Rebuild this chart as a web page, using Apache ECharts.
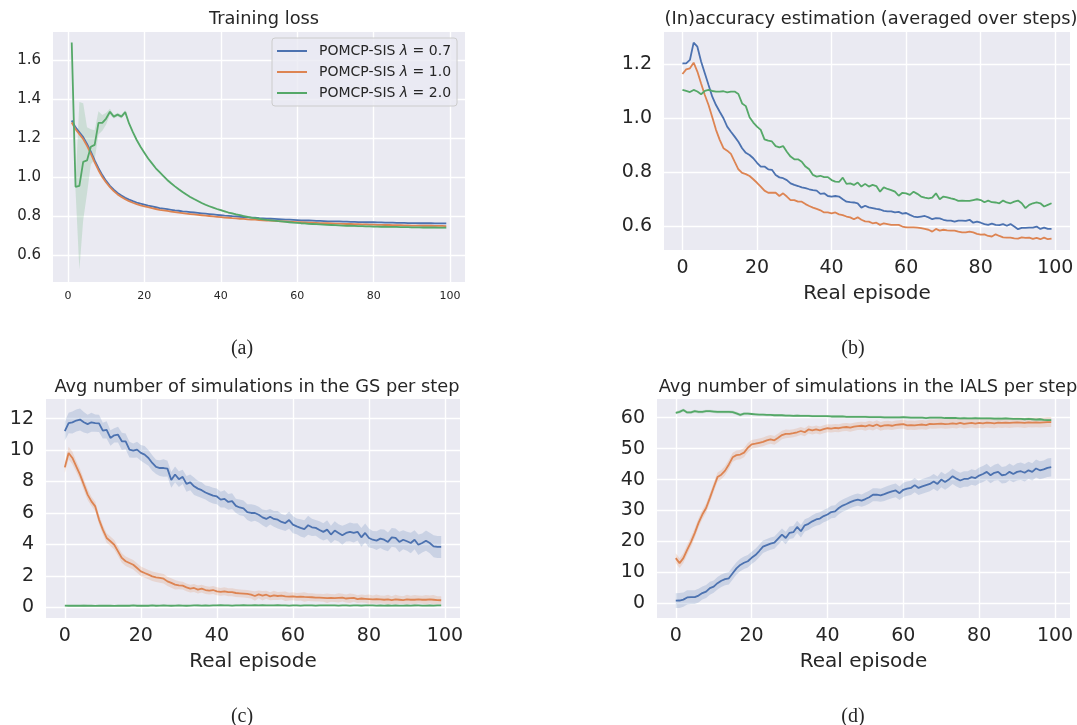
<!DOCTYPE html>
<html>
<head>
<meta charset="utf-8">
<script src="https://cdn.jsdelivr.net/npm/echarts@6/dist/echarts.min.js"></script>
<style>
  html, body { margin: 0; padding: 0; background: #fff; }
  #main { width: 1077px; height: 725px; }
</style>
</head>
<body>
<div id="main"></div>
<script>
// x values: training loss is logged from episode 1, the rest from episode 0
const lossEpisodes = Array.from({ length: 99 }, (_, i) => i + 1);
const episodes = Array.from({ length: 100 }, (_, i) => i);

const seriesNames = ['POMCP-SIS λ = 0.7', 'POMCP-SIS λ = 1.0', 'POMCP-SIS λ = 2.0'];
const colors = ['#4C72B0', '#DD8452', '#55A868'];

const episodeTicks = [0, 20, 40, 60, 80, 100];
const lossTicks = [0.6, 0.8, 1.0, 1.2, 1.4, 1.6];
const accTicks = [0.6, 0.8, 1.0, 1.2];
const gsTicks = [0, 2, 4, 6, 8, 10, 12];
const ialsTicks = [0, 10, 20, 30, 40, 50, 60];

// (a) training loss
const lossBlue = [1.29, 1.255, 1.23, 1.205, 1.17, 1.13, 1.085, 1.045, 1.01, 0.98,
  0.955, 0.935, 0.918, 0.905, 0.893, 0.884, 0.876, 0.869, 0.863, 0.858,
  0.853, 0.849, 0.845, 0.841, 0.838, 0.835, 0.832, 0.829, 0.827, 0.824,
  0.822, 0.82, 0.818, 0.816, 0.814, 0.812, 0.81, 0.808, 0.806, 0.804,
  0.802, 0.801, 0.799, 0.798, 0.796, 0.795, 0.793, 0.792, 0.791, 0.789,
  0.788, 0.787, 0.786, 0.785, 0.784, 0.783, 0.782, 0.781, 0.78, 0.779,
  0.778, 0.777, 0.777, 0.776, 0.775, 0.775, 0.774, 0.773, 0.773, 0.772,
  0.772, 0.771, 0.771, 0.77, 0.77, 0.769, 0.769, 0.768, 0.768, 0.768,
  0.767, 0.767, 0.766, 0.766, 0.766, 0.765, 0.765, 0.765, 0.764, 0.764,
  0.764, 0.763, 0.763, 0.763, 0.763, 0.762, 0.762, 0.762, 0.762];
const lossOrange = [1.28, 1.245, 1.22, 1.195, 1.16, 1.12, 1.075, 1.035, 1.0, 0.972,
  0.948, 0.928, 0.911, 0.898, 0.886, 0.876, 0.868, 0.861, 0.855, 0.85,
  0.845, 0.84, 0.836, 0.832, 0.829, 0.826, 0.823, 0.82, 0.817, 0.815,
  0.812, 0.81, 0.808, 0.806, 0.804, 0.802, 0.8, 0.798, 0.796, 0.794,
  0.792, 0.791, 0.789, 0.788, 0.786, 0.785, 0.783, 0.782, 0.781, 0.779,
  0.778, 0.777, 0.776, 0.775, 0.774, 0.773, 0.772, 0.771, 0.77, 0.769,
  0.768, 0.767, 0.766, 0.766, 0.765, 0.764, 0.763, 0.763, 0.762, 0.761,
  0.761, 0.76, 0.759, 0.759, 0.758, 0.758, 0.757, 0.757, 0.756, 0.756,
  0.755, 0.755, 0.754, 0.754, 0.753, 0.753, 0.753, 0.752, 0.752, 0.751,
  0.751, 0.751, 0.75, 0.75, 0.75, 0.749, 0.749, 0.749, 0.748];
const lossGreen = [1.69, 0.95, 0.955, 1.078, 1.085, 1.155, 1.165, 1.278, 1.278, 1.30,
  1.335, 1.31, 1.32, 1.31, 1.333, 1.275, 1.23, 1.19, 1.155, 1.125,
  1.095, 1.07, 1.045, 1.025, 1.005, 0.985, 0.968, 0.952, 0.937, 0.923,
  0.91, 0.898, 0.887, 0.877, 0.867, 0.858, 0.85, 0.843, 0.836, 0.83,
  0.824, 0.818, 0.813, 0.808, 0.804, 0.8, 0.796, 0.792, 0.789, 0.786,
  0.783, 0.78, 0.778, 0.776, 0.774, 0.772, 0.77, 0.768, 0.766, 0.765,
  0.763, 0.762, 0.76, 0.759, 0.758, 0.757, 0.756, 0.755, 0.754, 0.753,
  0.752, 0.751, 0.75, 0.75, 0.749, 0.748, 0.748, 0.747, 0.747, 0.746,
  0.746, 0.745, 0.745, 0.744, 0.744, 0.744, 0.743, 0.743, 0.743, 0.742,
  0.742, 0.742, 0.741, 0.741, 0.741, 0.741, 0.74, 0.74, 0.74];
const lossGreenBand = [0, 0.02, 0.43, 0.3, 0.17, 0.09, 0.075, 0.06, 0.04, 0.03,
  0.015, 0.01, 0.01, 0.01, 0.01, 0.005, 0.005, 0.005, 0.005, 0.005,
  0.005, 0.005, 0.005, 0.005, 0.005, 0.005, 0.005, 0.005, 0.005, 0.005,
  0.005, 0.005, 0.005, 0.005, 0.005, 0.005, 0.005, 0.005, 0.005, 0.005,
  0.005, 0.005, 0.005, 0.005, 0.005, 0.005, 0.005, 0.005, 0.005, 0.005,
  0.005, 0.005, 0.005, 0.005, 0.005, 0.005, 0.005, 0.005, 0.005, 0.005,
  0.005, 0.005, 0.005, 0.005, 0.005, 0.005, 0.005, 0.005, 0.005, 0.005,
  0.005, 0.005, 0.005, 0.005, 0.005, 0.005, 0.005, 0.005, 0.005, 0.005,
  0.005, 0.005, 0.005, 0.005, 0.005, 0.005, 0.005, 0.005, 0.005, 0.005,
  0.005, 0.005, 0.005, 0.005, 0.005, 0.005, 0.005, 0.005, 0.005];

// (b) (in)accuracy estimation
const accBlue = [1.202, 1.202, 1.215, 1.279, 1.264, 1.209, 1.166, 1.122, 1.079, 1.048,
  1.023, 0.999, 0.968, 0.949, 0.931, 0.912, 0.888, 0.871, 0.863, 0.851,
  0.834, 0.82, 0.82, 0.81, 0.808, 0.789, 0.78, 0.777, 0.77, 0.758,
  0.752, 0.748, 0.743, 0.74, 0.736, 0.733, 0.731, 0.719, 0.721, 0.711,
  0.709, 0.711, 0.709, 0.699, 0.69, 0.688, 0.687, 0.684, 0.668, 0.675,
  0.669, 0.666, 0.663, 0.661, 0.656, 0.654, 0.654, 0.65, 0.652, 0.646,
  0.648, 0.641, 0.635, 0.633, 0.635, 0.637, 0.632, 0.625, 0.629, 0.628,
  0.623, 0.62, 0.62, 0.616, 0.62, 0.62, 0.619, 0.623, 0.612, 0.616,
  0.612, 0.607, 0.604, 0.609, 0.604, 0.603, 0.607, 0.601, 0.607, 0.598,
  0.588, 0.593, 0.593, 0.594, 0.594, 0.598, 0.589, 0.594, 0.589, 0.589];
const accOrange = [1.163, 1.18, 1.184, 1.205, 1.172, 1.128, 1.085, 1.048, 1.003, 0.956,
  0.919, 0.888, 0.879, 0.867, 0.838, 0.81, 0.797, 0.792, 0.785, 0.773,
  0.76, 0.746, 0.731, 0.723, 0.723, 0.723, 0.711, 0.721, 0.709, 0.696,
  0.696, 0.69, 0.69, 0.681, 0.674, 0.668, 0.663, 0.658, 0.65, 0.65,
  0.647, 0.65, 0.643, 0.64, 0.635, 0.632, 0.625, 0.632, 0.623, 0.617,
  0.616, 0.61, 0.612, 0.604, 0.61, 0.607, 0.604, 0.604, 0.604, 0.598,
  0.595, 0.595, 0.595, 0.594, 0.592, 0.589, 0.586, 0.579, 0.589, 0.583,
  0.586, 0.584, 0.583, 0.583, 0.579, 0.576, 0.576, 0.579, 0.576, 0.571,
  0.568, 0.569, 0.563, 0.561, 0.569, 0.563, 0.558, 0.557, 0.557, 0.554,
  0.553, 0.558, 0.556, 0.557, 0.552, 0.556, 0.551, 0.557, 0.551, 0.553];
const accGreen = [1.104, 1.1, 1.096, 1.104, 1.098, 1.088, 1.1, 1.104, 1.1, 1.098,
  1.098, 1.099, 1.095, 1.098, 1.098, 1.089, 1.054, 1.044, 1.003, 0.983,
  0.968, 0.956, 0.921, 0.916, 0.913, 0.896, 0.891, 0.896, 0.875, 0.857,
  0.847, 0.847, 0.838, 0.82, 0.81, 0.789, 0.783, 0.786, 0.781, 0.781,
  0.77, 0.764, 0.763, 0.779, 0.756, 0.758, 0.752, 0.761, 0.746, 0.756,
  0.746, 0.752, 0.748, 0.727, 0.743, 0.737, 0.733, 0.727, 0.712, 0.723,
  0.721, 0.715, 0.727, 0.719, 0.709, 0.705, 0.702, 0.705, 0.721, 0.699,
  0.709, 0.706, 0.702, 0.699, 0.693, 0.694, 0.693, 0.693, 0.696, 0.699,
  0.696, 0.688, 0.694, 0.688, 0.687, 0.684, 0.694, 0.687, 0.684, 0.69,
  0.694, 0.684, 0.666, 0.678, 0.684, 0.687, 0.684, 0.672, 0.678, 0.684];

// (c) simulations in the GS
const gsBlue = [11.2, 11.72, 11.76, 11.88, 11.94, 11.77, 11.65, 11.77, 11.72, 11.7,
  11.24, 11.28, 10.77, 10.94, 10.98, 10.56, 10.56, 10.03, 9.97, 10.03,
  9.82, 9.71, 9.5, 9.18, 8.93, 8.86, 8.86, 8.82, 8.1, 8.45,
  8.15, 8.3, 7.85, 7.95, 7.7, 7.55, 7.45, 7.3, 7.2, 7.1,
  7.05, 6.85, 6.9, 6.7, 6.75, 6.45, 6.35, 6.3, 6.05, 6.0,
  6.0, 5.89, 5.72, 5.62, 5.76, 5.62, 5.57, 5.43, 5.36, 5.55,
  5.26, 5.15, 5.05, 4.98, 5.22, 5.09, 5.05, 4.92, 4.8, 4.94,
  4.63, 4.88, 4.73, 4.58, 4.73, 4.8, 4.73, 4.8, 4.45, 4.73,
  4.41, 4.3, 4.24, 4.37, 4.3, 4.16, 4.45, 4.41, 4.16, 4.3,
  4.2, 4.09, 4.3, 3.98, 4.09, 4.24, 4.09, 3.88, 3.84, 3.84];
const gsOrange = [8.9, 9.82, 9.5, 8.96, 8.44, 7.8, 7.17, 6.74, 6.42, 5.58,
  4.94, 4.41, 4.2, 3.98, 3.56, 3.14, 2.93, 2.82, 2.71, 2.5,
  2.29, 2.18, 2.08, 1.97, 1.91, 1.87, 1.82, 1.65, 1.55, 1.44,
  1.4, 1.38, 1.27, 1.19, 1.23, 1.13, 1.19, 1.1, 1.06, 1.1,
  1.02, 0.98, 1.02, 0.96, 0.96, 0.91, 0.89, 0.87, 0.85, 0.81,
  0.72, 0.82, 0.74, 0.8, 0.7, 0.76, 0.72, 0.74, 0.7, 0.68,
  0.7, 0.66, 0.68, 0.66, 0.65, 0.64, 0.62, 0.62, 0.6, 0.58,
  0.6, 0.58, 0.6, 0.62, 0.56, 0.58, 0.6, 0.52, 0.56, 0.54,
  0.52, 0.5, 0.52, 0.5, 0.48, 0.5, 0.46, 0.5, 0.48, 0.46,
  0.5, 0.48, 0.48, 0.5, 0.48, 0.48, 0.5, 0.48, 0.46, 0.45];
const gsGreen = [0.11, 0.1, 0.1, 0.1, 0.1, 0.11, 0.1, 0.1, 0.09, 0.1,
  0.1, 0.1, 0.1, 0.09, 0.1, 0.1, 0.11, 0.1, 0.12, 0.1,
  0.1, 0.11, 0.1, 0.12, 0.1, 0.11, 0.12, 0.11, 0.1, 0.11,
  0.12, 0.11, 0.1, 0.11, 0.12, 0.12, 0.11, 0.12, 0.11, 0.12,
  0.12, 0.13, 0.12, 0.12, 0.11, 0.12, 0.12, 0.13, 0.12, 0.12,
  0.13, 0.12, 0.13, 0.12, 0.12, 0.12, 0.13, 0.12, 0.12, 0.11,
  0.12, 0.12, 0.11, 0.12, 0.12, 0.12, 0.11, 0.12, 0.12, 0.12,
  0.12, 0.12, 0.11, 0.12, 0.12, 0.11, 0.12, 0.12, 0.11, 0.12,
  0.12, 0.12, 0.11, 0.12, 0.11, 0.12, 0.11, 0.12, 0.11, 0.11,
  0.12, 0.11, 0.12, 0.12, 0.11, 0.11, 0.12, 0.11, 0.12, 0.12];
const gsBlueBand = [0.6, 0.65, 0.7, 0.7, 0.7, 0.65, 0.6, 0.6, 0.55, 0.55,
  0.5, 0.55, 0.5, 0.45, 0.5, 0.55, 0.5, 0.5, 0.45, 0.5,
  0.5, 0.55, 0.5, 0.5, 0.45, 0.5, 0.55, 0.5, 0.5, 0.5,
  0.5, 0.45, 0.5, 0.5, 0.55, 0.5, 0.5, 0.45, 0.5, 0.5,
  0.5, 0.5, 0.55, 0.5, 0.5, 0.45, 0.5, 0.5, 0.5, 0.55,
  0.5, 0.5, 0.5, 0.55, 0.5, 0.5, 0.55, 0.5, 0.5, 0.55,
  0.55, 0.5, 0.55, 0.55, 0.6, 0.55, 0.5, 0.55, 0.55, 0.6,
  0.55, 0.6, 0.55, 0.6, 0.55, 0.6, 0.6, 0.55, 0.6, 0.6,
  0.6, 0.55, 0.6, 0.6, 0.65, 0.6, 0.6, 0.6, 0.65, 0.6,
  0.6, 0.65, 0.6, 0.65, 0.6, 0.65, 0.65, 0.7, 0.7, 0.7];
const gsOrangeBand = [0.35, 0.4, 0.4, 0.35, 0.35, 0.35, 0.35, 0.3, 0.3, 0.3,
  0.3, 0.3, 0.3, 0.3, 0.3, 0.3, 0.3, 0.3, 0.3, 0.3,
  0.3, 0.3, 0.3, 0.3, 0.3, 0.3, 0.3, 0.3, 0.3, 0.3,
  0.25, 0.25, 0.25, 0.25, 0.25, 0.25, 0.25, 0.25, 0.25, 0.25,
  0.25, 0.25, 0.25, 0.25, 0.25, 0.25, 0.25, 0.25, 0.25, 0.25,
  0.3, 0.25, 0.3, 0.25, 0.25, 0.3, 0.25, 0.25, 0.3, 0.25,
  0.25, 0.25, 0.25, 0.3, 0.25, 0.25, 0.25, 0.25, 0.25, 0.3,
  0.25, 0.25, 0.3, 0.25, 0.25, 0.3, 0.25, 0.25, 0.25, 0.25,
  0.3, 0.25, 0.3, 0.25, 0.25, 0.3, 0.25, 0.3, 0.25, 0.25,
  0.3, 0.25, 0.3, 0.25, 0.25, 0.3, 0.25, 0.3, 0.25, 0.25];
const gsGreenBand = [0.04, 0.04, 0.04, 0.04, 0.04, 0.08, 0.04, 0.04, 0.04, 0.04,
  0.04, 0.04, 0.04, 0.04, 0.04, 0.04, 0.04, 0.04, 0.04, 0.04,
  0.04, 0.04, 0.04, 0.04, 0.04, 0.04, 0.04, 0.04, 0.04, 0.04,
  0.04, 0.04, 0.04, 0.04, 0.04, 0.08, 0.04, 0.04, 0.04, 0.04,
  0.04, 0.04, 0.04, 0.04, 0.04, 0.04, 0.04, 0.04, 0.04, 0.04,
  0.04, 0.04, 0.04, 0.04, 0.04, 0.04, 0.04, 0.04, 0.04, 0.04,
  0.04, 0.04, 0.04, 0.04, 0.04, 0.04, 0.04, 0.04, 0.04, 0.04,
  0.04, 0.04, 0.04, 0.04, 0.04, 0.04, 0.04, 0.04, 0.08, 0.04,
  0.04, 0.04, 0.04, 0.04, 0.04, 0.08, 0.04, 0.04, 0.04, 0.04,
  0.04, 0.04, 0.08, 0.04, 0.04, 0.04, 0.04, 0.04, 0.04, 0.04];

// (d) simulations in the IALS
const ialsBlue = [0.86, 0.9, 1.2, 1.9, 2.0, 2.0, 2.5, 3.3, 3.8, 4.9,
  5.4, 6.5, 7.3, 7.8, 8.1, 9.7, 11.3, 12.4, 13.1, 13.6,
  14.7, 15.6, 16.9, 18.3, 18.8, 19.3, 19.6, 20.9, 22.2, 21.1,
  22.8, 23.0, 24.7, 23.3, 25.2, 25.7, 26.5, 27.1, 27.4, 28.2,
  28.7, 29.5, 29.7, 30.8, 31.6, 32.1, 32.7, 33.2, 33.5, 33.2,
  33.7, 34.3, 35.1, 35.1, 34.9, 35.3, 35.8, 36.2, 36.5, 35.6,
  36.7, 37.1, 37.3, 38.2, 37.3, 37.8, 38.2, 38.6, 39.4, 38.6,
  40.0, 39.2, 40.0, 41.1, 40.3, 39.7, 40.2, 40.2, 40.8, 40.5,
  41.3, 41.8, 42.5, 41.4, 42.2, 42.5, 41.4, 41.6, 42.5, 41.8,
  42.5, 42.7, 42.2, 43.0, 42.5, 43.6, 43.0, 43.3, 43.8, 44.0];
const ialsOrange = [14.6, 13.0, 14.6, 17.3, 19.8, 22.7, 26.0, 28.7, 30.8, 34.1,
  37.5, 40.8, 41.6, 42.9, 44.9, 47.2, 47.9, 48.1, 48.7, 50.3,
  51.4, 51.6, 51.9, 52.2, 52.7, 53.0, 52.7, 53.5, 54.4, 54.8,
  54.8, 55.0, 55.3, 55.7, 55.3, 56.2, 55.9, 56.2, 55.9, 56.3,
  56.6, 56.5, 56.7, 56.6, 56.9, 57.0, 56.8, 57.1, 57.3, 57.4,
  57.2, 57.6, 57.3, 57.8, 57.2, 57.5, 57.6, 57.4, 57.7, 57.8,
  57.9, 57.5, 57.6, 57.5, 57.7, 57.8, 57.6, 58.0, 57.9, 58.0,
  58.1, 57.9, 58.0, 58.2, 58.0, 58.3, 58.0, 58.2, 58.3, 58.1,
  58.3, 58.2, 58.4, 58.3, 58.2, 58.4, 58.3, 58.4, 58.3, 58.4,
  58.5, 58.4, 58.3, 58.5, 58.4, 58.5, 58.4, 58.5, 58.6, 58.6];
const ialsGreen = [61.6, 61.9, 62.5, 61.7, 61.7, 62.1, 61.9, 61.9, 62.1, 62.1,
  62.0, 61.9, 61.9, 61.9, 61.9, 61.8, 61.4, 60.9, 61.3, 61.3,
  61.2, 61.1, 61.0, 61.0, 60.9, 60.9, 60.8, 60.8, 60.8, 60.7,
  60.7, 60.6, 60.7, 60.6, 60.6, 60.6, 60.5, 60.5, 60.5, 60.5,
  60.5, 60.4, 60.4, 60.4, 60.4, 60.3, 60.3, 60.3, 60.3, 60.3,
  60.3, 60.2, 60.2, 60.2, 60.2, 60.1, 60.1, 60.1, 60.1, 60.1,
  60.2, 60.1, 60.0, 60.0, 60.0, 60.0, 59.9, 60.0, 60.0, 60.0,
  60.0, 59.9, 59.9, 59.9, 59.9, 59.8, 59.9, 59.8, 59.8, 59.9,
  59.8, 59.8, 59.8, 59.8, 59.7, 59.7, 59.7, 59.8, 59.7, 59.6,
  59.6, 59.6, 59.5, 59.6, 59.5, 59.4, 59.5, 59.3, 59.2, 59.2];
const ialsBlueBand = [2.4, 2.4, 2.3, 2.3, 2.2, 2.2, 2.2, 2.1, 2.1, 2.1,
  2.0, 2.0, 2.0, 2.0, 2.0, 2.0, 2.0, 2.0, 2.0, 2.0,
  2.0, 2.0, 2.0, 2.0, 2.0, 2.0, 2.0, 2.0, 2.0, 2.0,
  2.0, 2.0, 2.0, 2.0, 2.0, 2.0, 2.0, 2.0, 2.0, 2.0,
  2.0, 2.0, 2.0, 2.0, 2.0, 2.0, 2.0, 2.0, 2.0, 2.0,
  2.1, 2.1, 2.1, 2.1, 2.1, 2.2, 2.2, 2.2, 2.2, 2.2,
  2.3, 2.3, 2.3, 2.3, 2.3, 2.4, 2.4, 2.4, 2.4, 2.4,
  2.5, 2.5, 2.5, 2.5, 2.5, 2.5, 2.5, 2.5, 2.5, 2.5,
  2.6, 2.6, 2.6, 2.6, 2.6, 2.7, 2.7, 2.7, 2.7, 2.7,
  2.8, 2.8, 2.8, 2.8, 2.8, 2.9, 2.9, 2.9, 3.0, 3.0];
const ialsOrangeBand = [1.6, 1.6, 1.6, 1.6, 1.6, 1.6, 1.5, 1.5, 1.5, 1.5,
  1.5, 1.5, 1.5, 1.5, 1.5, 1.5, 1.5, 1.5, 1.5, 1.5,
  1.4, 1.4, 1.4, 1.4, 1.4, 1.4, 1.4, 1.4, 1.4, 1.4,
  1.3, 1.3, 1.3, 1.3, 1.3, 1.3, 1.3, 1.3, 1.3, 1.3,
  1.3, 1.3, 1.3, 1.3, 1.3, 1.3, 1.3, 1.3, 1.3, 1.3,
  1.4, 1.4, 1.4, 1.4, 1.4, 1.4, 1.4, 1.4, 1.4, 1.4,
  1.5, 1.5, 1.5, 1.5, 1.5, 1.5, 1.5, 1.5, 1.5, 1.5,
  1.5, 1.5, 1.5, 1.5, 1.5, 1.5, 1.5, 1.5, 1.5, 1.5,
  1.6, 1.6, 1.6, 1.6, 1.6, 1.6, 1.6, 1.6, 1.6, 1.6,
  1.6, 1.6, 1.6, 1.6, 1.6, 1.6, 1.6, 1.6, 1.6, 1.6];
const ialsGreenBand = [0.5, 0.5, 0.5, 0.5, 0.5, 0.5, 0.5, 0.5, 0.5, 0.5,
  0.5, 0.5, 0.5, 0.5, 0.5, 0.5, 0.5, 0.5, 0.5, 0.5,
  0.4, 0.4, 0.4, 0.4, 0.4, 0.4, 0.4, 0.4, 0.4, 0.4,
  0.4, 0.4, 0.4, 0.4, 0.4, 0.4, 0.4, 0.4, 0.4, 0.4,
  0.4, 0.4, 0.4, 0.4, 0.4, 0.4, 0.4, 0.4, 0.4, 0.4,
  0.4, 0.4, 0.4, 0.4, 0.4, 0.4, 0.4, 0.4, 0.4, 0.4,
  0.4, 0.4, 0.4, 0.4, 0.4, 0.4, 0.4, 0.4, 0.4, 0.4,
  0.4, 0.4, 0.4, 0.4, 0.4, 0.4, 0.4, 0.4, 0.4, 0.4,
  0.4, 0.4, 0.4, 0.4, 0.5, 0.6, 0.5, 0.4, 0.4, 0.4,
  0.4, 0.4, 0.4, 0.4, 0.4, 0.4, 0.4, 0.4, 0.4, 0.4];

const textColor = '#262626';
const font = 'DejaVu Sans';

function pairs(xs, ys) {
  return xs.map((x, i) => [x, ys[i]]);
}

function line(name, idx, xs, ys, color) {
  return {
    type: 'line', name: name, xAxisIndex: idx, yAxisIndex: idx,
    data: pairs(xs, ys), symbol: 'none', z: 5,
    lineStyle: { color: color, width: 1.8 }, itemStyle: { color: color }
  };
}

// confidence band drawn as one polygon, corners placed through the axis scales
function band(idx, xs, ys, hw, color) {
  return {
    type: 'custom', xAxisIndex: idx, yAxisIndex: idx, z: 2, silent: true,
    data: [[xs[0], ys[0]]],
    renderItem: (params, api) => {
      const upper = xs.map((x, i) => api.coord([x, ys[i] + hw[i]]));
      const lower = xs.map((x, i) => api.coord([x, ys[i] - hw[i]])).reverse();
      return {
        type: 'polygon',
        shape: { points: upper.concat(lower) },
        style: { fill: color, opacity: 0.2 }
      };
    }
  };
}

const grids = [
  { left: 53, top: 32, width: 412, height: 250 },
  { left: 664, top: 32, width: 406, height: 218 },
  { left: 46, top: 399, width: 414, height: 219 },
  { left: 657, top: 399, width: 413, height: 219 }
].map(g => Object.assign({ show: true, backgroundColor: '#EAEAF2', borderWidth: 0 }, g));

function xAxis(idx, min, max, fontSize, named) {
  return {
    type: 'value', gridIndex: idx, min: min, max: max,
    axisLine: { show: false },
    axisTick: { show: false, customValues: episodeTicks },
    axisLabel: { customValues: episodeTicks, color: textColor, fontSize: fontSize, fontFamily: font, margin: 9 },
    splitLine: { show: true, lineStyle: { color: '#ffffff', width: 1.4 } },
    name: named ? 'Real episode' : '', nameLocation: 'middle', nameGap: 34,
    nameTextStyle: { color: textColor, fontSize: 20, fontFamily: font }
  };
}

function yAxis(idx, min, max, ticks, fontSize, fmt) {
  return {
    type: 'value', gridIndex: idx, min: min, max: max,
    axisLine: { show: false },
    axisTick: { show: false, customValues: ticks },
    axisLabel: { customValues: ticks, color: textColor, fontSize: fontSize, fontFamily: font, margin: 12, formatter: fmt },
    splitLine: { show: true, lineStyle: { color: '#ffffff', width: 1.4 } }
  };
}

const oneDecimal = v => v.toFixed(1);
const integer = v => String(Math.round(v));

const series = [
  band(0, lossEpisodes, lossGreen, lossGreenBand, colors[2]),
  line(seriesNames[0], 0, lossEpisodes, lossBlue, colors[0]),
  line(seriesNames[1], 0, lossEpisodes, lossOrange, colors[1]),
  line(seriesNames[2], 0, lossEpisodes, lossGreen, colors[2]),

  line('accB', 1, episodes, accBlue, colors[0]),
  line('accO', 1, episodes, accOrange, colors[1]),
  line('accG', 1, episodes, accGreen, colors[2]),

  band(2, episodes, gsBlue, gsBlueBand, colors[0]),
  band(2, episodes, gsOrange, gsOrangeBand, colors[1]),
  band(2, episodes, gsGreen, gsGreenBand, colors[2]),
  line('gsBl', 2, episodes, gsBlue, colors[0]),
  line('gsOl', 2, episodes, gsOrange, colors[1]),
  line('gsGl', 2, episodes, gsGreen, colors[2]),

  band(3, episodes, ialsBlue, ialsBlueBand, colors[0]),
  band(3, episodes, ialsOrange, ialsOrangeBand, colors[1]),
  band(3, episodes, ialsGreen, ialsGreenBand, colors[2]),
  line('iaBl', 3, episodes, ialsBlue, colors[0]),
  line('iaOl', 3, episodes, ialsOrange, colors[1]),
  line('iaGl', 3, episodes, ialsGreen, colors[2])
];

function title(text, x, y, size, family) {
  return {
    text: text, left: x, top: y, textAlign: 'center',
    textStyle: { color: textColor, fontSize: size, fontWeight: 'normal', fontFamily: family || font }
  };
}

const option = {
  animation: false,
  backgroundColor: '#ffffff',
  title: [
    title('Training loss', 259, 5, 17.8),
    title('(In)accuracy estimation (averaged over steps)', 866, 5, 17.8),
    title('Avg number of simulations in the GS per step', 252, 373, 17.8),
    title('Avg number of simulations in the IALS per step', 863, 373, 17.8),
    title('(a)', 237, 334, 20, 'Liberation Serif'),
    title('(b)', 848, 334, 20, 'Liberation Serif'),
    title('(c)', 237, 702, 20, 'Liberation Serif'),
    title('(d)', 848, 702, 20, 'Liberation Serif')
  ],
  legend: {
    data: seriesNames, orient: 'vertical', left: 272, top: 38,
    icon: 'rect', itemWidth: 30, itemHeight: 2, itemGap: 5, padding: [5, 6, 5, 5],
    backgroundColor: 'rgba(234,234,242,0.8)', borderColor: '#cccccc', borderWidth: 1, borderRadius: 3,
    textStyle: {
      color: textColor, fontSize: 14, fontFamily: font, padding: [0, 0, 0, 7], lineHeight: 16,
      rich: { i: { fontStyle: 'italic', fontSize: 14, fontFamily: font, color: textColor, lineHeight: 16 } }
    },
    formatter: name => name.replace('λ', '{i|λ}')
  },
  grid: grids,
  xAxis: [
    xAxis(0, -3.9, 103.9, 11, false),
    xAxis(1, -4.95, 103.95, 19, true),
    xAxis(2, -4.95, 103.95, 19, true),
    xAxis(3, -4.95, 103.95, 19, true)
  ],
  yAxis: [
    yAxis(0, 0.4615, 1.744, lossTicks, 15, oneDecimal),
    yAxis(1, 0.511, 1.3185, accTicks, 19, oneDecimal),
    yAxis(2, -0.68, 13.25, gsTicks, 19, integer),
    yAxis(3, -4.75, 66.05, ialsTicks, 19, integer)
  ],
  series: series
};

const chart = echarts.init(document.getElementById('main'), null, { renderer: 'canvas' });
chart.setOption(option);
</script>
</body>
</html>
